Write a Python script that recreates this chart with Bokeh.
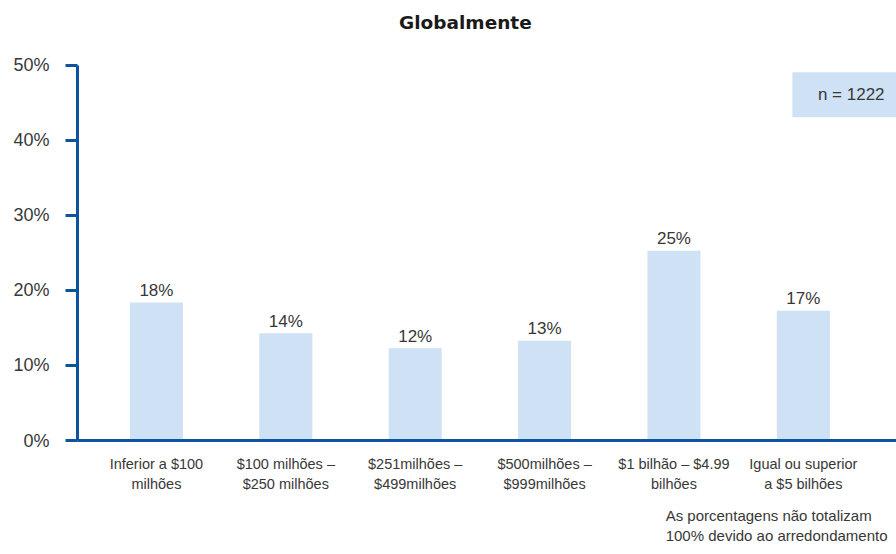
from bokeh.plotting import figure
from bokeh.models import (ColumnDataSource, Range1d, FixedTicker, Label, Title,
                          BoxAnnotation)
from bokeh.core.properties import value
from bokeh.embed import file_html
from bokeh.resources import INLINE

# ---- data ----
line1 = ["Inferior a $100", "$100 milhões –", "$251milhões –", "$500milhões –",
         "$1 bilhão – $4.99", "Igual ou superior"]
line2 = ["milhões", "$250 milhões", "$499milhões", "$999milhões", "bilhões", "a $5 bilhões"]
values = [18.4, 14.3, 12.3, 13.3, 25.3, 17.3]
value_labels = ["18%", "14%", "12%", "13%", "25%", "17%"]
y_ticks = [0, 10, 20, 30, 40, 50]
y_tick_labels = ["0%", "10%", "20%", "30%", "40%", "50%"]
title_text = "Globalmente"
n_text = "n = 1222"
note_lines = ["As porcentagens não totalizam", "100% devido ao arredondamento"]

BLUE = "#0d539e"
BAR = "#cfe1f4"
TXT = "#383838"
FONT = "Liberation Sans"

xs = list(range(len(values)))
y_max = max(y_ticks)

# frame reaches the top of the canvas; the y axis itself is bounded to 0..50
p = figure(width=896, height=554, output_backend="svg", toolbar_location=None,
           x_range=Range1d(-0.61, 5.72), y_range=Range1d(0, y_max * 1.1733),
           min_border_left=77, min_border_right=0, min_border_top=0,
           min_border_bottom=114)
p.title.visible = False
p.outline_line_color = None
p.xgrid.visible = False
p.ygrid.visible = False
p.background_fill_color = "white"
p.border_fill_color = "white"

src = ColumnDataSource(dict(x=xs, top=values, lab=value_labels))
p.vbar(x="x", top="top", width=0.41, bottom=0, source=src, fill_color=BAR, line_color=None)
p.text(x="x", y="top", text="lab", source=src, text_align="center", text_baseline="middle",
       y_offset=-12, text_font=value(FONT), text_font_size="17px", text_color=TXT)

# y axis
p.yaxis.bounds = (0, y_max)
p.yaxis.ticker = FixedTicker(ticks=y_ticks)
p.yaxis.major_label_overrides = {t: s for t, s in zip(y_ticks, y_tick_labels)}
p.yaxis.axis_line_color = BLUE
p.yaxis.axis_line_width = 3
p.yaxis.major_tick_line_color = BLUE
p.yaxis.major_tick_line_width = 3
p.yaxis.major_tick_out = 12
p.yaxis.major_tick_in = 0
p.yaxis.minor_tick_line_color = None
p.yaxis.major_label_standoff = 16
p.yaxis.major_label_text_font = FONT
p.yaxis.major_label_text_font_size = "18px"
p.yaxis.major_label_text_color = TXT

# x axis with two-line category labels
p.xaxis.ticker = FixedTicker(ticks=xs)
p.xaxis.major_label_overrides = {x: a + "\n" + b for x, a, b in zip(xs, line1, line2)}
p.xaxis.axis_line_color = BLUE
p.xaxis.axis_line_width = 3
p.xaxis.major_tick_line_color = None
p.xaxis.minor_tick_line_color = None
p.xaxis.major_tick_out = 0
p.xaxis.major_tick_in = 0
p.xaxis.major_label_standoff = 15
p.xaxis.major_label_text_font = FONT
p.xaxis.major_label_text_font_size = "14.5px"
p.xaxis.major_label_text_color = TXT
p.xaxis.major_label_text_line_height = 1.3

# title (inside the frame's top band)
p.add_layout(Label(x=2.388, y=55.73, text=title_text, text_align="center",
                   text_baseline="middle", text_font="DejaVu Sans", text_font_style="bold",
                   text_font_size="18.5px", text_color="#1a1a1a"))

# n box
p.add_layout(BoxAnnotation(left=4.915, bottom=43.1, top=49.1, fill_color=BAR, fill_alpha=1,
                           line_color=None))
p.add_layout(Label(x=5.37, y=46.1, text=n_text, text_align="center", text_baseline="middle",
                   text_font=FONT, text_font_size="17px", text_color=TXT))

# footnote
note = Title(text="\n".join(note_lines), align="right", offset=9, standoff=20,
             text_font=FONT, text_font_size="15px", text_font_style="normal",
             text_color=TXT, text_line_height=1.2)
p.add_layout(note, "below")

open("out.html", "w").write(file_html(p, INLINE))
